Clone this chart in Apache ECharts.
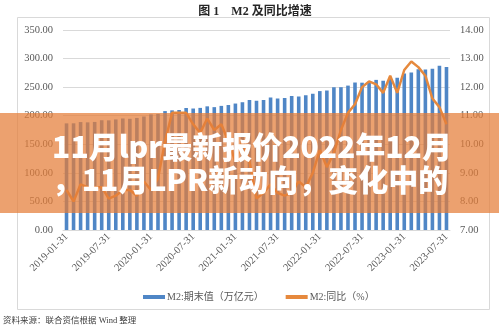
<!DOCTYPE html>
<html>
<head>
<meta charset="utf-8">
<script src="https://cdn.jsdelivr.net/npm/echarts@6/dist/echarts.min.js"></script>
<style>
  html, body { margin: 0; padding: 0; background: #fff; }
  #chart { width: 499px; height: 329px; }
</style>
</head>
<body>
<div id="chart"></div>
<script>
// Month-end dates, 2019-01 to 2023-07
const months = [
  '2019-01-31','2019-02-28','2019-03-31','2019-04-30','2019-05-31','2019-06-30',
  '2019-07-31','2019-08-31','2019-09-30','2019-10-31','2019-11-30','2019-12-31',
  '2020-01-31','2020-02-29','2020-03-31','2020-04-30','2020-05-31','2020-06-30',
  '2020-07-31','2020-08-31','2020-09-30','2020-10-31','2020-11-30','2020-12-31',
  '2021-01-31','2021-02-28','2021-03-31','2021-04-30','2021-05-31','2021-06-30',
  '2021-07-31','2021-08-31','2021-09-30','2021-10-31','2021-11-30','2021-12-31',
  '2022-01-31','2022-02-28','2022-03-31','2022-04-30','2022-05-31','2022-06-30',
  '2022-07-31','2022-08-31','2022-09-30','2022-10-31','2022-11-30','2022-12-31',
  '2023-01-31','2023-02-28','2023-03-31','2023-04-30','2023-05-31','2023-06-30',
  '2023-07-31'
];

// M2 period-end balance, trillion yuan
const m2Balance = [
  186.6, 186.7, 188.9, 188.4, 189.1, 192.1, 191.9, 193.5, 195.2, 194.6, 196.1, 198.6,
  202.3, 203.1, 208.1, 209.4, 210.0, 213.5, 212.6, 213.7, 216.4, 215.0, 217.2, 218.7,
  221.3, 223.6, 227.6, 226.2, 227.6, 231.8, 230.2, 231.2, 234.3, 233.6, 235.6, 238.3,
  243.1, 244.1, 249.8, 249.9, 252.7, 258.1, 257.8, 259.5, 262.7, 261.2, 264.7, 266.4,
  273.8, 275.5, 281.5, 280.9, 282.0, 287.3, 285.4
];

// M2 year-on-year growth, %
const m2Yoy = [
  8.4, 8.0, 8.6, 8.5, 8.5, 8.5, 8.1, 8.2, 8.4, 8.4, 8.2, 8.7,
  8.4, 8.8, 10.1, 11.1, 11.1, 11.1, 10.7, 10.4, 10.9, 10.5, 10.7, 10.1,
  9.4, 10.1, 9.4, 8.1, 8.3, 8.6, 8.3, 8.2, 8.3, 8.7, 8.5, 9.0,
  9.8, 9.2, 9.7, 10.5, 11.1, 11.4, 12.0, 12.2, 12.1, 11.8, 12.4, 11.8,
  12.6, 12.9, 12.7, 12.4, 11.6, 11.3, 10.7
];

const seriesNames = ['M2:期末值（万亿元）', 'M2:同比（%）'];
const headlineLines = ['11月lpr最新报价2022年12月', '，11月LPR新动向，变化中的'];

const serif = "'Liberation Serif', 'DejaVu Serif', 'Noto Sans CJK SC', serif";
const headFont = "'Noto Sans CJK SC', 'Noto Sans', sans-serif";
const axisColor = '#595959';

const headlineStyle = (text) => ({
  text,
  align: 'center',
  verticalAlign: 'middle',
  fontFamily: headFont,
  fontWeight: 900,
  fontSize: 30,
  fill: '#ffffff',
  shadowColor: 'rgba(0,0,0,0.45)',
  shadowBlur: 4,
  shadowOffsetX: 1,
  shadowOffsetY: 1
});

const chart = echarts.init(document.getElementById('chart'), null, { renderer: 'canvas' });

chart.setOption({
  animation: false,
  backgroundColor: '#ffffff',
  title: {
    text: '图 1    M2 及同比增速',
    left: 250,
    textAlign: 'center',
    top: 1,
    textStyle: {
      fontFamily: serif,
      fontWeight: 'bold',
      fontSize: 12,
      color: '#262626'
    }
  },
  grid: {
    left: 63,
    top: 30,
    width: 387,
    height: 200,
    containLabel: false
  },
  legend: {
    left: 138,
    top: 287,
    itemWidth: 22,
    itemHeight: 4,
    itemGap: 22,
    textStyle: { fontFamily: serif, fontSize: 10, color: axisColor, padding: [0, 0, 0, -3] },
    data: [
      { name: seriesNames[0], icon: 'rect' },
      { name: seriesNames[1], icon: 'rect' }
    ]
  },
  xAxis: {
    type: 'category',
    data: months,
    boundaryGap: true,
    axisLine: { show: true, lineStyle: { color: '#D9D9D9' } },
    axisTick: { show: false },
    axisLabel: {
      interval: 5,
      rotate: 45,
      margin: 5,
      fontFamily: serif,
      fontSize: 10.5,
      color: axisColor
    }
  },
  yAxis: [
    {
      type: 'value',
      min: 0,
      max: 350,
      interval: 50,
      axisLine: { show: false },
      axisTick: { show: false },
      splitLine: { lineStyle: { color: '#D9D9D9', width: 1 } },
      axisLabel: {
        margin: 10,
        fontFamily: serif,
        fontSize: 10.5,
        color: axisColor,
        formatter: v => v.toFixed(2)
      }
    },
    {
      type: 'value',
      min: 7,
      max: 14,
      interval: 1,
      axisLine: { show: false },
      axisTick: { show: false },
      splitLine: { show: false },
      axisLabel: {
        margin: 10,
        fontFamily: serif,
        fontSize: 10.5,
        color: axisColor,
        formatter: v => v.toFixed(2)
      }
    }
  ],
  series: [
    {
      name: seriesNames[0],
      type: 'bar',
      yAxisIndex: 0,
      data: m2Balance,
      barWidth: 3.6,
      itemStyle: { color: '#4F86C6' }
    },
    {
      name: seriesNames[1],
      type: 'line',
      yAxisIndex: 1,
      data: m2Yoy,
      symbol: 'none',
      lineStyle: { color: '#E6893D', width: 2.5 },
      itemStyle: { color: '#E6893D' }
    }
  ],
  graphic: [
    {
      type: 'rect',
      z: -1,
      silent: true,
      shape: { x: 17.5, y: 17.5, width: 472, height: 292 },
      style: { fill: 'none', stroke: '#D9D9D9', lineWidth: 1 }
    },
    {
      type: 'text',
      left: 3,
      top: 317,
      silent: true,
      style: {
        text: '资料来源：联合资信根据 Wind 整理',
        fontFamily: serif,
        fontSize: 8.5,
        fill: '#404040'
      }
    },
    {
      type: 'rect',
      z: 100,
      silent: true,
      shape: { x: 0, y: 113, width: 499, height: 100 },
      style: { fill: 'rgba(229, 125, 55, 0.72)' }
    },
    {
      type: 'text',
      z: 101,
      silent: true,
      x: 252,
      y: 147,
      style: headlineStyle(headlineLines[0])
    },
    {
      type: 'text',
      z: 101,
      silent: true,
      x: 250,
      y: 180,
      style: headlineStyle(headlineLines[1])
    }
  ]
});
</script>
</body>
</html>
